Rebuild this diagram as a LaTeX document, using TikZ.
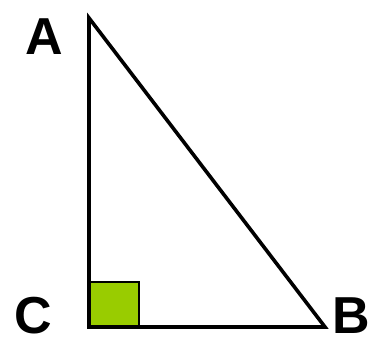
\documentclass[tikz,border=0pt]{standalone}
\usepackage{fontspec}
\setmainfont{Liberation Sans}
\definecolor{sqgreen}{RGB}{153,204,0}
\begin{document}
\begin{tikzpicture}[x=1pt,y=1pt,
  edge/.style={line width=3.6pt, line join=miter},
  lbl/.style={font=\fontsize{52}{52}\selectfont\bfseries, inner sep=0pt, anchor=center}]
\useasboundingbox (0,0) rectangle (374,340);
\coordinate (A) at (89,322);
\coordinate (C) at (89,13);
\coordinate (B) at (325,13);
\coordinate (S) at (139,58);
\filldraw[fill=sqgreen, draw=black, line width=2pt] (C) rectangle (S);
\draw[edge] (A) -- (C) -- (B) -- cycle;
\node[lbl] (la) at (44,303) {A};
\node[lbl] (lc) at (33,24) {C};
\node[lbl] (lb) at (351,24) {B};
\end{tikzpicture}
\end{document}
